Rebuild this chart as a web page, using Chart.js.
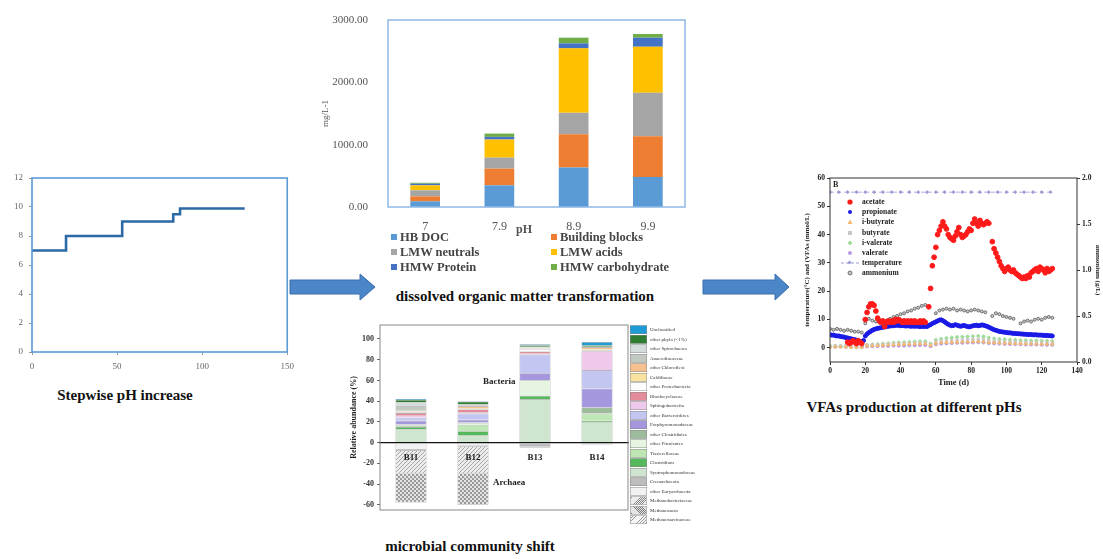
<!DOCTYPE html>
<html><head><meta charset="utf-8">
<script src="https://cdn.jsdelivr.net/npm/chart.js@4.4.1/dist/chart.umd.min.js"></script>
<style>
html,body{margin:0;padding:0;background:#fff;}
body{width:1103px;height:559px;position:relative;overflow:hidden;font-family:'Liberation Serif','Times New Roman',serif;}
canvas{position:absolute;}
.t{position:absolute;white-space:nowrap;line-height:1;}
.cap{font-weight:bold;font-size:15px;color:#111;transform:translate(-50%,-50%);}
</style></head><body>
<svg width="1103" height="559" style="position:absolute;left:0;top:0">
  <polygon points="290,280 360,280 360,274 375,287 360,300 360,294 290,294" fill="#4a86c8" stroke="#3a6fae" stroke-width="1"/>
  <polygon points="703,280 775,280 775,274 789,287 775,300 775,294 703,294" fill="#4a86c8" stroke="#3a6fae" stroke-width="1"/>
</svg>
<canvas id="c1" width="300" height="215" style="left:0;top:165px"></canvas>
<canvas id="c2" width="390" height="250" style="left:320px;top:0"></canvas>
<canvas id="c3" width="375" height="230" style="left:335px;top:305px"></canvas>
<canvas id="c4" width="308" height="225" style="left:795px;top:170px"></canvas>
<div id="overlay"></div>
<script>
// ---------- data: stepwise pH ----------
const phDays = [0, 20, 53, 83, 87, 125];
const phValues = [7, 8, 9, 9.5, 9.9, 9.9];

// ---------- data: dissolved organic matter (mg/L) ----------
const domCategories = ['7', '7.9', '8.9', '9.9'];
const domSeries = ['HB DOC', 'Building blocks', 'LMW neutrals', 'LMW acids', 'HMW Protein', 'HMW carbohydrate'];
const hbDoc = [91, 348, 632, 482];
const buildingBlocks = [80, 268, 536, 654];
const lmwNeutrals = [97, 177, 343, 696];
const lmwAcids = [80, 289, 1034, 739];
const hmwProtein = [25, 43, 80, 145];
const hmwCarbohydrate = [16, 53, 91, 59];
const domColors = ['#5b9bd5', '#ed7d31', '#a5a5a5', '#ffc000', '#4472c4', '#70ad47'];
const domTicks = [0, 1000, 2000, 3000];

// ---------- data: microbial community (relative abundance %) ----------
const microSamples = ['B11', 'B12', 'B13', 'B14'];
const microTaxa = ['Unclassified', 'other phyla (<1%)', 'other Spirochaetes', 'Anaerolineaceae', 'other Chloroflexi',
  'Caldilineae', 'other Proteobacteria', 'Rhodocyclaceae', 'Sphingobacteriia', 'other Bacteroidetes',
  'Porphyromonadaceae', 'other Clostridiales', 'other Firmicutes', 'Tissierellaceae', 'Clostridium',
  'Syntrophomonadaceae', 'Crenarchaeota', 'other Euryarchaeota', 'Methanobacteriaceae', 'Methanosaeta', 'Methanosarcinaceae'];
const microAbundance = [
  [0.8, 0.5, 1, 3],
  [2.2, 2.5, 1.5, 1.5],
  [4, 1, 0.5, 0.2],
  [4, 1, 0.5, 0.3],
  [1, 2, 0.5, 2],
  [0.5, 0.5, 0.5, 0.5],
  [1, 0.5, 2.5, 0.5],
  [2.5, 3, 2, 1],
  [2, 1, 1, 18],
  [3, 6, 18, 18],
  [3.5, 2.5, 6.5, 18],
  [0.5, 0.5, 0.5, 5.5],
  [1, 2, 14.5, 0.5],
  [1, 6, 0.5, 7],
  [2, 4, 3, 1],
  [13, 7, 42, 20],
  [-1, -1, -3, -0.5],
  [-7, -3, -1, -1],
  [-22, -26, -1, -0.5],
  [-27.5, -30, 0, 0],
  [-0.5, 0, 0, 0]
];
const microColors = ['#1e9ad6', '#2e7d32', '#d5dcdc', '#c2c9c0', '#f6c08f', '#f7e2a0', '#fdfdfd', '#e48b9c', '#efc9ec',
  '#c3c6f0', '#a497de', '#9cbc9c', '#e6f4e2', '#bfe6b5', '#55b85a', '#cfe5cf', '#bdbdbd', '#f2f2f2', 'hatch1', 'hatch2', 'hatch3'];
const microStackOrder = [15, 14, 13, 12, 11, 10, 9, 8, 7, 6, 5, 4, 3, 2, 1, 0, 17, 16, 18, 19, 20];
const microTicks = [-60, -40, -20, 0, 20, 40, 60, 80, 100];

// ---------- data: VFAs production ----------
const acetateDays = [10,11,12,13,14,15,16,17,18,
  20,21,22,23,24,25,26,27,28,29,30,31,32,33,34,35,36,37,38,39,40,41,42,43,44,45,46,47,48,49,50,51,52,53,54,
  56,57,58,59,60,61,62,63,64,65,66,67,68,69,70,71,72,73,74,75,76,77,78,79,80,81,82,83,84,85,86,87,88,89,90,
  92,93,94,95,96,97,98,99,100,101,102,103,104,105,106,107,108,109,110,111,112,113,114,115,116,117,118,119,120,121,122,123,124,125,126];
const acetate = [2,1.5,2,2.5,2,1.5,2.5,2,1.5,
  10,12.5,14.5,15.5,15.5,15,13,10.5,9.5,9,9.5,7.5,9,9.5,9,9.5,9,10,9.5,10,9.5,9,9.5,9,9.5,9,9.5,9,9.5,9,9,9.5,9,9.5,9,
  14.5,21,29,32,35.5,40,41.5,43,44.5,43,42,40,39,38.5,38,39.5,41,42.5,40,39,39.5,40,41,42,41.5,44,45.5,44,43,45,44,43.5,44,44.5,44,
  37.5,35,33.5,32,30.5,29,28,27,28,28.5,27.5,27,27.5,26.5,26,25.5,25,24.5,25,24.5,25.5,25,26.5,27,27.5,28,27,28.5,28,27.5,26.5,28,27,27.5,28];
const propionateDays = [0,1,2,3,4,5,6,7,8,9,10,11,12,13,14,15,16,17,18,19,20,21,22,23,24,25,26,27,28,29,30,31,32,33,34,35,36,37,38,39,
  40,41,42,43,44,45,46,47,48,49,50,51,52,53,54,55,56,57,58,59,60,61,62,63,64,65,66,67,68,69,70,71,72,73,74,75,76,77,78,79,
  80,81,82,83,84,85,86,87,88,89,90,91,92,93,94,95,96,97,98,99,100,101,102,103,104,105,106,107,108,109,110,111,112,113,114,115,116,117,118,119,
  120,121,122,123,124,125,126];
const propionate = [4.6,4.5,4.5,4.3,4.2,4.2,4.0,3.9,3.8,3.6,
  3.5,3.3,3.2,3.0,2.9,2.7,2.5,2.3,2.1,2.6,
  4.2,4.9,5.4,5.8,6.2,6.5,6.7,6.9,7.0,7.1,
  7.3,7.4,7.5,7.6,7.7,7.8,7.8,7.9,8.0,7.9,
  7.8,7.9,7.8,7.7,7.8,7.7,7.6,7.7,7.6,7.7,
  7.6,7.5,7.6,7.5,7.6,7.5,7.9,8.2,8.6,8.9,
  9.2,9.5,9.8,9.9,9.6,9.2,8.7,8.3,8.0,7.8,
  7.9,8.2,8.0,7.8,7.6,7.8,7.9,7.7,7.5,7.4,
  7.6,7.8,7.9,8.0,7.8,7.9,8.1,8.0,7.8,7.6,
  7.3,7.0,6.7,6.4,6.2,6.0,5.8,5.7,5.6,5.5,
  5.4,5.3,5.3,5.2,5.1,5.1,5.0,5.0,4.9,4.9,
  4.8,4.8,4.7,4.7,4.7,4.6,4.6,4.6,4.5,4.5,
  4.5,4.4,4.4,4.4,4.3,4.3,4.2];
const minorDays = [0,3,6,9,12,15,18,21,24,27,30,33,36,39,42,45,48,51,54,57,60,63,66,69,72,75,78,81,84,87,90,93,96,99,102,105,108,111,114,117,120,123,126];
const iButyrate = [0.3,0.3,0.3,0.3,0.2,0.2,0.2, 0.6,0.7,0.8,0.9,1.0,1.1,1.2,1.2,1.3,1.3,1.4,1.4, 0.9,
  1.6,1.8,1.9,2.0,2.0,2.1,2.1,2.2,2.2,2.1, 1.9,1.8,1.7,1.6,1.6,1.5,1.5,1.4,1.4,1.4,1.3,1.3,1.3];
const butyrate = [0.8,0.8,0.7,0.8,0.7,0.6,0.6, 1.0,1.1,1.2,1.3,1.4,1.5,1.5,1.6,1.7,1.7,1.8,1.8, 1.2,
  2.2,2.5,2.6,2.7,2.8,2.8,2.9,3.0,3.0,2.9, 2.6,2.4,2.3,2.2,2.1,2.1,2.0,2.0,1.9,1.9,1.9,1.8,1.8];
const iValerate = [0.5,0.5,0.6,0.5,0.5,0.4,0.5, 1.0,1.2,1.3,1.5,1.6,1.8,1.9,2.0,2.1,2.2,2.3,2.3, 1.5,
  2.8,3.2,3.5,3.6,3.8,3.9,4.0,4.1,4.2,4.0, 3.6,3.3,3.1,3.0,2.9,2.8,2.7,2.7,2.6,2.6,2.5,2.5,2.4];
const valerate = [0.4,0.4,0.5,0.4,0.4,0.3,0.3, 0.5,0.6,0.6,0.7,0.7,0.8,0.8,0.8,0.9,0.9,1.0,1.0, 0.6,
  1.3,1.5,1.6,1.7,1.8,1.8,1.9,1.9,2.0,1.9, 1.7,1.6,1.5,1.4,1.4,1.3,1.3,1.2,1.2,1.2,1.1,1.1,1.1];
const temperatureDays = [0,5,10,15,20,25,30,35,40,45,50,55,60,65,70,75,80,85,90,95,100,105,110,115,120,125];
const temperature = [55,55,55,55,55,55,55,55,55,55,55,55,55,55,55,55,55,55,55,55,55,55,55,55,55,55];
const ammoniumDays = [0,2,4,6,8,10,12,14,16,18,20,22,24,26,28,30,32,34,36,38,40,42,44,46,48,50,52,54,
  60,62,64,66,68,70,72,74,76,78,80,82,84,86,88,92,94,96,98,100,102,104,108,110,112,114,116,118,120,122,124,126];
const ammonium = [0.36,0.35,0.36,0.35,0.34,0.35,0.34,0.33,0.33,0.32,0.42,0.47,0.45,0.44,0.43,0.42,0.45,0.47,0.49,0.5,
  0.52,0.53,0.55,0.56,0.58,0.59,0.61,0.62,
  0.53,0.56,0.57,0.58,0.57,0.58,0.56,0.57,0.56,0.55,0.56,0.57,0.56,0.55,0.54,0.5,0.53,0.52,0.5,0.49,0.48,0.47,
  0.42,0.44,0.45,0.44,0.46,0.47,0.46,0.48,0.49,0.48];
const vfaLeftTicks = [0, 10, 20, 30, 40, 50, 60];
const vfaLegend = ['acetate', 'propionate', 'i-butyrate', 'butyrate', 'i-valerate', 'valerate', 'temperature', 'ammonium'];
const vfaColors = ['#ff1a1a', '#1a1ae6', '#f4b870', '#c8c8c8', '#9fdc98', '#b79be0', '#9b9bd6', '#555555'];

// ---------- helpers ----------
Chart.defaults.font.family = "'Liberation Serif','Times New Roman',serif";
Chart.defaults.animation = false;
Chart.register({
  id: 'frame',
  afterDraw(chart, args, opts) {
    if (!opts || !opts.color) return;
    const { ctx, chartArea: a } = chart;
    ctx.save();
    ctx.strokeStyle = opts.color;
    ctx.lineWidth = opts.width || 1;
    ctx.strokeRect(a.left, a.top, a.right - a.left, a.bottom - a.top);
    ctx.restore();
  }
});
function xy(xs, ys) { return xs.map((x, i) => ({ x: x, y: ys[i] })); }
function hatch(bg, line, s, cross) {
  const c = document.createElement('canvas'); c.width = s; c.height = s;
  const g = c.getContext('2d');
  g.fillStyle = bg; g.fillRect(0, 0, s, s);
  g.strokeStyle = line; g.lineWidth = 0.7; g.beginPath();
  g.moveTo(-1, 1); g.lineTo(1, -1); g.moveTo(0, s); g.lineTo(s, 0); g.moveTo(s - 1, s + 1); g.lineTo(s + 1, s - 1);
  if (cross) { g.moveTo(0, 0); g.lineTo(s, s); g.moveTo(-1, s - 1); g.lineTo(1, s + 1); g.moveTo(s - 1, -1); g.lineTo(s + 1, 1); }
  g.stroke();
  return g.createPattern(c, 'repeat');
}
const hatchFills = {
  hatch1: [hatch('#ececec', '#8a8a8a', 4, false), 'repeating-linear-gradient(135deg,#ececec 0 2px,#8a8a8a 2px 3px)'],
  hatch2: [hatch('#e4e4e4', '#7a7a7a', 4, true), 'repeating-linear-gradient(45deg,#e4e4e4 0 2px,#7a7a7a 2px 3px)'],
  hatch3: [hatch('#f4f4f4', '#999', 5, false), 'repeating-linear-gradient(135deg,#f4f4f4 0 3px,#999 3px 4px)']
};
function fillOf(c) { return hatchFills[c] ? hatchFills[c][0] : c; }
function cssOf(c) { return hatchFills[c] ? hatchFills[c][1] : c; }
const noPlug = { legend: { display: false }, tooltip: { enabled: false } };

// ---------- chart 1: stepwise pH ----------
new Chart(document.getElementById('c1'), {
  type: 'line',
  data: { datasets: [{ data: xy(phDays, phValues), stepped: true, borderColor: '#2c6aa6', borderWidth: 2.6, pointRadius: 0, fill: false }] },
  options: {
    responsive: false, devicePixelRatio: 1,
    layout: { padding: { top: 13, right: 12, left: 0, bottom: 0 } },
    plugins: Object.assign({ frame: { color: '#5b9bd5', width: 1.6 } }, noPlug),
    scales: {
      x: { type: 'linear', min: 0, max: 150, ticks: { stepSize: 50, font: { size: 9 }, color: '#666', padding: 6 },
        grid: { drawOnChartArea: false, tickLength: 3, color: '#999' }, border: { display: false },
        afterFit(s) { s.height = 28; } },
      y: { min: 0, max: 12, ticks: { stepSize: 2, font: { size: 9 }, color: '#666', padding: 6 },
        grid: { drawOnChartArea: false, tickLength: 3, color: '#999' }, border: { display: false },
        afterFit(s) { s.width = 32; } }
    }
  }
});

// ---------- chart 2: dissolved organic matter ----------
const domValues = [hbDoc, buildingBlocks, lmwNeutrals, lmwAcids, hmwProtein, hmwCarbohydrate];
new Chart(document.getElementById('c2'), {
  type: 'bar',
  data: { labels: domCategories, datasets: domValues.map((v, i) => ({ label: domSeries[i], data: v, backgroundColor: domColors[i], barPercentage: 0.4, categoryPercentage: 1 })) },
  options: {
    responsive: false, devicePixelRatio: 1,
    layout: { padding: { top: 20, right: 25, left: 0, bottom: 20 } },
    plugins: Object.assign({ frame: { color: '#8fb9e6', width: 1.5 } }, noPlug),
    scales: {
      x: { stacked: true, ticks: { font: { size: 12 }, color: '#555', padding: 5 }, grid: { display: false }, border: { display: false },
        afterFit(s) { s.height = 23; } },
      y: { stacked: true, min: 0, max: 3000, afterBuildTicks(s) { s.ticks = domTicks.map(v => ({ value: v })); },
        ticks: { font: { size: 11 }, color: '#555', padding: 12, callback: v => Number(v).toFixed(2) },
        grid: { display: false }, border: { display: false },
        title: { display: true, text: 'mg/L-1', font: { size: 9 }, color: '#555', padding: { top: 0, bottom: 0 } },
        afterFit(s) { s.width = 68; } }
    }
  }
});

// ---------- chart 3: microbial community ----------
new Chart(document.getElementById('c3'), {
  type: 'bar',
  data: { labels: microSamples, datasets: microStackOrder.map(i => ({ label: microTaxa[i], data: microAbundance[i], backgroundColor: fillOf(microColors[i]),
    borderColor: 'rgba(70,70,70,0.55)', borderWidth: 0.6, barPercentage: 0.5, categoryPercentage: 1 })) },
  options: {
    responsive: false, devicePixelRatio: 1,
    layout: { padding: { top: 20, right: 82, left: 0, bottom: 25 } },
    plugins: Object.assign({ frame: { color: '#888', width: 1 } }, noPlug),
    scales: {
      x: { stacked: true, position: { y: 0 }, ticks: { z: 2, font: { size: 9, weight: 'bold' }, color: '#222', padding: 2 },
        grid: { display: false }, border: { display: true, z: 2, color: '#111', width: 1.3 } },
      y: { stacked: true, min: -65, max: 113.5, afterBuildTicks(s) { s.ticks = microTicks.map(v => ({ value: v })); },
        ticks: { font: { size: 8, weight: 'bold' }, color: '#333', padding: 3 },
        grid: { drawOnChartArea: false, tickLength: 3, color: '#666' }, border: { display: false },
        title: { display: true, text: 'Relative abundance (%)', font: { size: 8, weight: 'bold' }, color: '#222', padding: { top: 14, bottom: 0 } },
        afterFit(s) { s.width = 45; } }
    }
  }
});

// ---------- chart 4: VFAs ----------
new Chart(document.getElementById('c4'), {
  type: 'scatter',
  data: { datasets: [
    { label: 'acetate', data: xy(acetateDays, acetate), backgroundColor: vfaColors[0], borderColor: vfaColors[0], pointRadius: 2.4, yAxisID: 'y' },
    { label: 'propionate', data: xy(propionateDays, propionate), backgroundColor: vfaColors[1], borderColor: vfaColors[1], pointRadius: 2, yAxisID: 'y' },
    { label: 'ammonium', data: xy(ammoniumDays, ammonium), backgroundColor: 'rgba(150,150,150,0.5)', borderColor: vfaColors[7], borderWidth: 0.8, pointRadius: 1.5, yAxisID: 'y2' },
    { label: 'i-butyrate', data: xy(minorDays, iButyrate), backgroundColor: vfaColors[2], borderColor: vfaColors[2], pointStyle: 'triangle', pointRadius: 1.8, yAxisID: 'y' },
    { label: 'butyrate', data: xy(minorDays, butyrate), backgroundColor: vfaColors[3], borderColor: vfaColors[3], pointStyle: 'rect', pointRadius: 1.6, yAxisID: 'y' },
    { label: 'i-valerate', data: xy(minorDays, iValerate), backgroundColor: vfaColors[4], borderColor: vfaColors[4], pointStyle: 'rectRot', pointRadius: 1.8, yAxisID: 'y' },
    { label: 'valerate', data: xy(minorDays, valerate), backgroundColor: vfaColors[5], borderColor: vfaColors[5], pointRadius: 1.6, yAxisID: 'y' },
    { label: 'temperature', data: xy(temperatureDays, temperature), showLine: true, borderDash: [4, 3], borderWidth: 0.8, borderColor: vfaColors[6], backgroundColor: vfaColors[6], pointStyle: 'rectRot', pointRadius: 1.6, yAxisID: 'y' }
  ] },
  options: {
    responsive: false, devicePixelRatio: 1,
    layout: { padding: { top: 8, right: 0, left: 0, bottom: 0 } },
    plugins: Object.assign({ frame: { color: '#333', width: 1 } }, noPlug),
    scales: {
      x: { type: 'linear', min: 0, max: 140, ticks: { stepSize: 20, font: { size: 7.5, weight: 'bold' }, color: '#222', padding: 2 },
        grid: { drawOnChartArea: false, tickLength: 3, color: '#333' }, border: { display: false },
        title: { display: true, text: 'Time (d)', font: { size: 8.5, weight: 'bold' }, color: '#222', padding: { top: 0, bottom: 7 } },
        afterFit(s) { s.height = 33; } },
      y: { position: 'left', min: -5, max: 60, afterBuildTicks(s) { s.ticks = vfaLeftTicks.map(v => ({ value: v })); },
        ticks: { font: { size: 7.5, weight: 'bold' }, color: '#222', padding: 2 },
        grid: { drawOnChartArea: false, tickLength: 3, color: '#333' }, border: { display: false },
        title: { display: true, text: 'temperature(°C) and (VFAs (mmol/L)', font: { size: 7, weight: 'bold' }, color: '#222', padding: { top: 8, bottom: 0 } },
        afterFit(s) { s.width = 35; } },
      y2: { position: 'right', min: 0, max: 2, ticks: { stepSize: 0.5, font: { size: 7.5, weight: 'bold' }, color: '#222', padding: 2, callback: v => Number(v).toFixed(1) },
        grid: { drawOnChartArea: false, tickLength: 3, color: '#333' }, border: { display: false },
        title: { display: true, text: 'ammonium (g/L)', font: { size: 7, weight: 'bold' }, color: '#222', padding: { top: 1, bottom: 0 } },
        afterFit(s) { s.width = 26; } }
    }
  }
});

// ---------- text & legends (HTML) ----------
const ov = document.getElementById('overlay');
function txt(s, left, top, style) {
  const d = document.createElement('div'); d.className = 't'; d.textContent = s;
  d.style.left = left + 'px'; d.style.top = top + 'px'; Object.assign(d.style, style || {}); ov.appendChild(d); return d;
}
function cap(s, cx, cy) { const d = txt(s, cx, cy); d.classList.add('cap'); }
cap('Stepwise pH increase', 125, 395);
cap('dissolved organic matter transformation', 525, 296);
cap('microbial community shift', 470, 546);
cap('VFAs production at different pHs', 914, 407);
txt('pH', 516, 223, { fontSize: '12px', fontWeight: 'bold', color: '#555' });

// DOM legend (2 columns)
domSeries.forEach((name, i) => {
  const col = i % 2, row = Math.floor(i / 2);
  const x = col === 0 ? 391 : 551, y = 237 + row * 15;
  const m = document.createElement('div');
  Object.assign(m.style, { position: 'absolute', left: x + 'px', top: (y - 3) + 'px', width: '6px', height: '6px', background: domColors[i] });
  ov.appendChild(m);
  txt(name, x + 9, y - 6.5, { fontSize: '12.5px', fontWeight: 'bold', color: '#444' });
});

// microbial labels
txt('Bacteria', 483, 377, { fontSize: '9px', fontWeight: 'bold', color: '#222' });
txt('Archaea', 493, 478, { fontSize: '9px', fontWeight: 'bold', color: '#222' });

// microbial legend (scaled container)
const ml = document.createElement('div');
Object.assign(ml.style, { position: 'absolute', left: '630px', top: '325px', width: '180px', height: '420px', transform: 'scale(0.5)', transformOrigin: '0 0' });
ov.appendChild(ml);
microTaxa.forEach((name, i) => {
  const b = document.createElement('div');
  Object.assign(b.style, { position: 'absolute', left: '0px', top: (i * 19 + 1) + 'px', width: '32px', height: '15px', background: cssOf(microColors[i]), border: '1px solid #888' });
  ml.appendChild(b);
  const t = document.createElement('div'); t.className = 't'; t.textContent = name;
  Object.assign(t.style, { left: '40px', top: (i * 19 + 4) + 'px', fontSize: '10px', color: '#333' });
  ml.appendChild(t);
});

// VFA legend
vfaLegend.forEach((name, i) => {
  const y = 202 + i * 10.2;
  const s = document.createElementNS('http://www.w3.org/2000/svg', 'svg');
  s.setAttribute('width', '20'); s.setAttribute('height', '8');
  s.style.position = 'absolute'; s.style.left = '840px'; s.style.top = (y - 4) + 'px';
  const c = vfaColors[i];
  let inner = '';
  if (name === 'temperature') inner = '<line x1="1" y1="4" x2="19" y2="4" stroke="' + c + '" stroke-dasharray="3,2"/><rect x="8" y="2" width="3" height="3" fill="' + c + '" transform="rotate(45 9.5 3.5)"/>';
  else if (name === 'ammonium') inner = '<circle cx="10" cy="4" r="2" fill="rgba(150,150,150,0.5)" stroke="' + c + '" stroke-width="0.8"/>';
  else if (name === 'i-butyrate') inner = '<polygon points="10,1.5 12.5,6 7.5,6" fill="' + c + '"/>';
  else if (name === 'butyrate') inner = '<rect x="8" y="2" width="4" height="4" fill="' + c + '"/>';
  else if (name === 'i-valerate') inner = '<polygon points="10,1.5 12.5,4 10,6.5 7.5,4" fill="' + c + '"/>';
  else inner = '<circle cx="10" cy="4" r="' + (name === 'acetate' ? 2.6 : 2) + '" fill="' + c + '"/>';
  s.innerHTML = inner;
  ov.appendChild(s);
  txt(name, 862, y - 4, { fontSize: '7.5px', fontWeight: 'bold', color: '#222' });
});
txt('B', 833, 181, { fontSize: '8px', fontWeight: 'bold', color: '#222' });
</script>
</body></html>
